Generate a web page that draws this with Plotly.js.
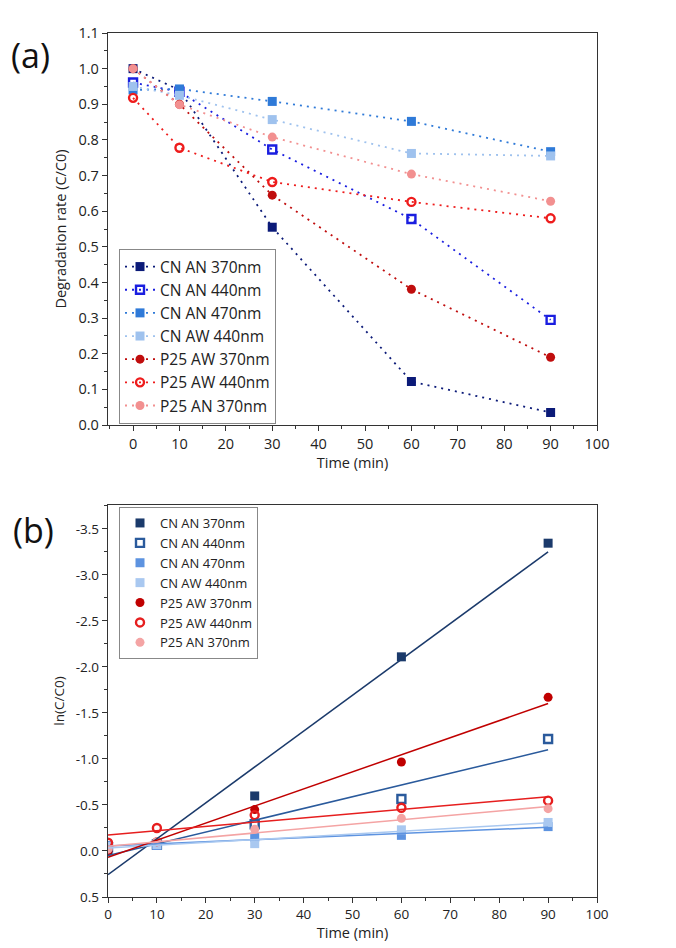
<!DOCTYPE html>
<html><head><meta charset="utf-8">
<script src="https://cdn.plot.ly/plotly-3.0.1.min.js"></script>
<style>html,body{margin:0;padding:0;background:#fff}#chart{width:676px;height:948px}</style>
</head><body><div id="chart"></div>
<script>
// ---------- data ----------
const time = [0, 10, 30, 60, 90];
const seriesNames = ['CN AN 370nm','CN AN 440nm','CN AN 470nm','CN AW 440nm','P25 AW 370nm','P25 AW 440nm','P25 AN 370nm'];

// panel (a): degradation rate C/C0
const rateCnAn370  = [1.000, 0.940, 0.555, 0.122, 0.035];
const rateCnAn440  = [0.961, 0.935, 0.773, 0.578, 0.295];
const rateCnAn470  = [0.940, 0.943, 0.908, 0.852, 0.767];
const rateCnAw440  = [0.950, 0.925, 0.857, 0.762, 0.755];
const rateP25Aw370 = [1.000, 0.900, 0.645, 0.381, 0.190];
const rateP25Aw440 = [0.918, 0.778, 0.682, 0.626, 0.580];
const rateP25An370 = [1.000, 0.899, 0.808, 0.704, 0.628];

// panel (b): ln(C/C0)
const lnCnAn370  = [0.00, -0.07, -0.598, -2.11, -3.345];
const lnCnAn440  = [-0.04, -0.07, -0.29, -0.565, -1.217];
const lnCnAn470  = [-0.06, -0.06, -0.15, -0.17, -0.265];
const lnCnAw440  = [-0.05, -0.07, -0.08, -0.23, -0.31];
const lnP25Aw370 = [0.00, -0.10, -0.45, -0.967, -1.67];
const lnP25Aw440 = [-0.09, -0.25, -0.39, -0.47, -0.547];
const lnP25An370 = [-0.02, -0.10, -0.235, -0.355, -0.46];

const yTickValsB = [0.5, 0, -0.5, -1, -1.5, -2, -2.5, -3, -3.5];
const yTickTextB = ['0.5','0.0','-0.5','-1.0','-1.5','-2.0','-2.5','-3.0','-3.5'];

// ---------- styles ----------
const rateSeries = [rateCnAn370, rateCnAn440, rateCnAn470, rateCnAw440, rateP25Aw370, rateP25Aw440, rateP25An370];
const lnSeries = [lnCnAn370, lnCnAn440, lnCnAn470, lnCnAw440, lnP25Aw370, lnP25Aw440, lnP25An370];
const colorsA = ['#0b1a78', '#1a1ee0', '#2f7ad8', '#9fc2ee', '#c00d0d', '#ee1c1c', '#f29090'];
const colorsB = ['#1b3a6b', '#2a5a9c', '#5d93e0', '#a9c8f0', '#c00000', '#e61e1e', '#f4a4a4'];
const symbols = ['square', 'square-open', 'square', 'square', 'circle', 'circle-open', 'circle'];

function linFit(x, y) {
  const n = x.length;
  const mx = x.reduce((a, b) => a + b, 0) / n;
  const my = y.reduce((a, b) => a + b, 0) / n;
  let sxy = 0, sxx = 0;
  for (let i = 0; i < n; i++) { sxy += (x[i] - mx) * (y[i] - my); sxx += (x[i] - mx) * (x[i] - mx); }
  const m = sxy / sxx;
  return { m: m, b: my - m * mx };
}

const FONT = 'Open Sans, sans-serif';
const traces = [];
seriesNames.forEach((name, i) => {
  const open = symbols[i].indexOf('open') >= 0;
  traces.push({
    x: time, y: rateSeries[i], name: name, type: 'scatter', mode: 'lines+markers',
    xaxis: 'x', yaxis: 'y', legend: 'legend', legendgroup: 'a' + i,
    line: { color: colorsA[i], width: 1.8, dash: '2px,5px' },
    marker: { symbol: symbols[i], size: open ? 8 : 9, color: colorsA[i], line: { color: colorsA[i], width: open ? 2.4 : 0 } }
  });
});
seriesNames.forEach((name, i) => {
  const open = symbols[i].indexOf('open') >= 0;
  traces.push({
    x: time, y: lnSeries[i], name: name, type: 'scatter', mode: 'markers',
    xaxis: 'x2', yaxis: 'y2', legend: 'legend2', legendgroup: 'b' + i,
    marker: { symbol: symbols[i], size: open ? 8 : 9, color: colorsB[i], line: { color: colorsB[i], width: open ? 2.4 : 0 } }
  });
});
seriesNames.forEach((name, i) => {
  const f = linFit(time, lnSeries[i]);
  const x0 = Math.min(...time), x1 = Math.max(...time);
  traces.push({
    x: [x0, x1], y: [f.b + f.m * x0, f.b + f.m * x1], type: 'scatter', mode: 'lines',
    xaxis: 'x2', yaxis: 'y2', showlegend: false, hoverinfo: 'skip',
    line: { color: colorsB[i], width: 1.5 }
  });
});

const axisBase = {
  showgrid: false, zeroline: false, showline: true, mirror: true,
  linecolor: '#333', linewidth: 1.4, ticks: 'outside', ticklen: 5, tickwidth: 1.2, tickcolor: '#333'
};

const layout = {
  width: 676, height: 948,
  margin: { l: 108, r: 79, t: 33, b: 51 },
  paper_bgcolor: '#fff', plot_bgcolor: '#fff',
  font: { family: FONT, color: '#222', size: 14 },
  showlegend: true,
  xaxis: Object.assign({}, axisBase, {
    domain: [0, 1], anchor: 'y', range: [-5.4, 100], tickvals: [0,10,20,30,40,50,60,70,80,90,100],
    minor: { ticks: 'outside', ticklen: 3, dtick: 5, tick0: 0, tickcolor: '#333' },
    tickfont: { size: 14.5, family: FONT },
    title: { text: 'Time (min)', font: { size: 14.5, family: FONT }, standoff: 4 }
  }),
  yaxis: Object.assign({}, axisBase, {
    domain: [0.5463, 1], anchor: 'x', range: [0, 1.1], dtick: 0.1, tickformat: '.1f',
    minor: { ticks: 'outside', ticklen: 3, dtick: 0.05, tick0: 0, tickcolor: '#333' },
    tickfont: { size: 14.5, family: FONT },
    title: { text: 'Degradation rate (C/C0)', font: { size: 14.5, family: FONT }, standoff: 8 }
  }),
  xaxis2: Object.assign({}, axisBase, {
    domain: [0, 1], anchor: 'y2', range: [0, 100], tickvals: [0,10,20,30,40,50,60,70,80,90,100],
    minor: { ticks: 'outside', ticklen: 3, dtick: 5, tick0: 0, tickcolor: '#333' },
    tickfont: { size: 13.5, family: FONT },
    title: { text: 'Time (min)', font: { size: 14.5, family: FONT }, standoff: 0 }
  }),
  yaxis2: Object.assign({}, axisBase, {
    domain: [0, 0.4537], anchor: 'x2', range: [0.5, -3.76],
    tickvals: yTickValsB, ticktext: yTickTextB,
    minor: { ticks: 'outside', ticklen: 3, dtick: 0.25, tick0: 0, tickcolor: '#333' },
    tickfont: { size: 13.5, family: FONT },
    title: { text: 'ln(C/C0)', font: { size: 13.5, family: FONT }, standoff: 8 }
  }),
  legend: {
    x: 0.0225, y: 0.75, xref: 'paper', yref: 'paper', xanchor: 'left', yanchor: 'top',
    bgcolor: '#fff', bordercolor: '#888', borderwidth: 1,
    font: { size: 15.5, family: FONT, color: '#222' }, tracegroupgap: 0, itemwidth: 30
  },
  legend2: {
    x: 0.0225, y: 0.4514, xref: 'paper', yref: 'paper', xanchor: 'left', yanchor: 'top',
    bgcolor: '#fff', bordercolor: '#888', borderwidth: 1,
    font: { size: 13, family: FONT, color: '#222' }, tracegroupgap: 0, itemwidth: 30
  },
  annotations: [
    { text: '(a)', xref: 'paper', yref: 'paper', x: -0.1575, y: 0.9745, xanchor: 'center', yanchor: 'middle',
      showarrow: false, font: { size: 34, family: FONT, color: '#111' } },
    { text: '(b)', xref: 'paper', yref: 'paper', x: -0.153, y: 0.4248, xanchor: 'center', yanchor: 'middle',
      showarrow: false, font: { size: 34, family: FONT, color: '#111' } }
  ]
};

Plotly.newPlot('chart', traces, layout, { displayModeBar: false, responsive: false });
</script>
</body></html>
